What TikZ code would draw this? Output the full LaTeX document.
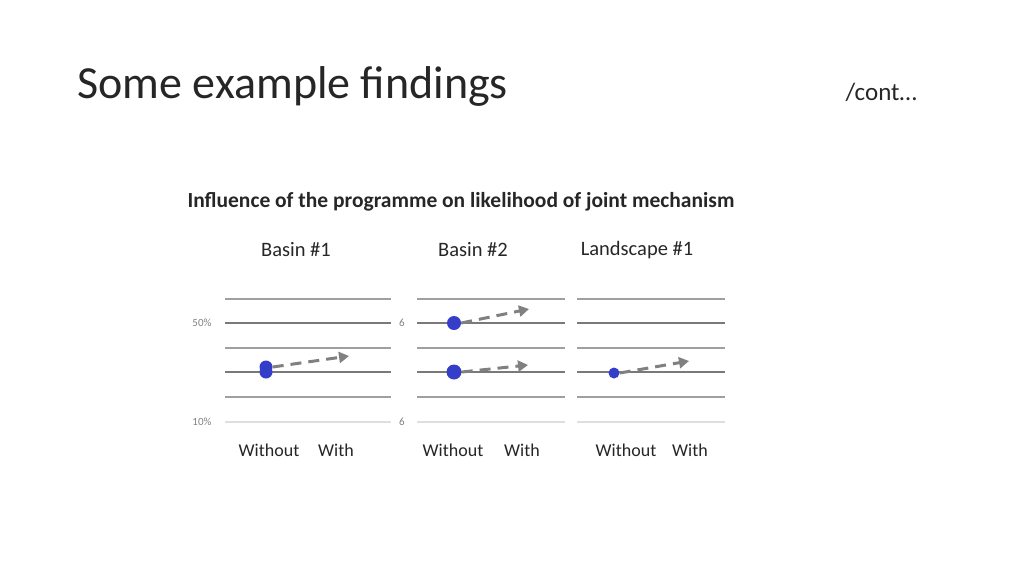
\documentclass[tikz,border=0pt]{standalone}
\usepackage{fontspec}
\setmainfont{Carlito}
\usetikzlibrary{arrows.meta}
\definecolor{dotblue}{RGB}{52,62,200}
\begin{document}
\begin{tikzpicture}[x=1pt,y=-1pt,
  grid/.style={draw=gray!75,line width=1.3pt},
  mid/.style={draw=gray!95!black,line width=1.3pt},
  light/.style={draw=gray!25,line width=1.2pt},
  dot/.style={circle,fill=dotblue,inner sep=0pt},
  trend/.style={draw=gray,line width=3pt,dash pattern=on 11pt off 7pt,-{Triangle[length=10pt,width=11pt]}},
  lab/.style={font=\fontsize{18}{18}\selectfont,text=black!85},
  head/.style={font=\fontsize{20.5}{20.5}\selectfont,text=black!85},
  tick/.style={font=\fontsize{11}{11}\selectfont,text=gray}]
\useasboundingbox (0,0) rectangle (1024,576);
\node[anchor=west,font=\fontsize{46}{46}\selectfont,text=black!85] (title) at (74,86) {Some example findings};
\node[anchor=west,font=\fontsize{25}{25}\selectfont,text=black!85] (cont) at (842,92) {/cont…};
\node[anchor=west,font=\bfseries\fontsize{21.5}{21.5}\selectfont,text=black!85] (ct) at (184,202) {Influence of the programme on likelihood of joint mechanism};
\node[head] (b1) at (296,250) {Basin \#1};
\node[head] (b2) at (473,250) {Basin \#2};
\node[head] (l1) at (637,250) {Landscape \#1};
\foreach \xa/\xb/\n in {225/391/p, 417/565/q, 577/725/r}{
  \draw[grid] (\xa,299) -- (\xb,299);
  \draw[mid] (\xa,323) -- (\xb,323);
  \draw[grid] (\xa,348) -- (\xb,348);
  \draw[mid] (\xa,372) -- (\xb,372);
  \draw[grid] (\xa,397) -- (\xb,397);
  \draw[light] (\xa,422) -- (\xb,422);
}
\node[tick] (t50) at (202,323) {50\%};
\node[tick] (t10) at (202,422) {10\%};
\node[tick] (s50) at (402,323) {6};
\node[tick] (s10) at (402,422) {6};
\foreach \x/\n in {269/a, 453/b, 626/c}{
  \node[lab] (wo\n) at (\x,450) {Without};
}
\node[lab] (wa) at (336,450) {With};
\node[lab] (wb) at (522,450) {With};
\node[lab] (wc) at (690,450) {With};
% points
\node[dot,minimum size=13pt] (d1a) at (266,367) {};
\node[dot,minimum size=13pt] (d1b) at (266,372) {};
\coordinate (e1) at (349,356);
\draw[trend] (d1a.east) -- (e1);
\node[dot,minimum size=14pt] (d2a) at (454,323) {};
\coordinate (e2) at (529,309);
\draw[trend] (d2a.east) -- (e2);
\node[dot,minimum size=15pt] (d2b) at (454,372) {};
\coordinate (e3) at (528,365);
\draw[trend] (d2b.east) -- (e3);
\node[dot,minimum size=11pt] (d3) at (614,373) {};
\coordinate (e4) at (689,361);
\draw[trend] (d3.east) -- (e4);
\end{tikzpicture}
\end{document}
